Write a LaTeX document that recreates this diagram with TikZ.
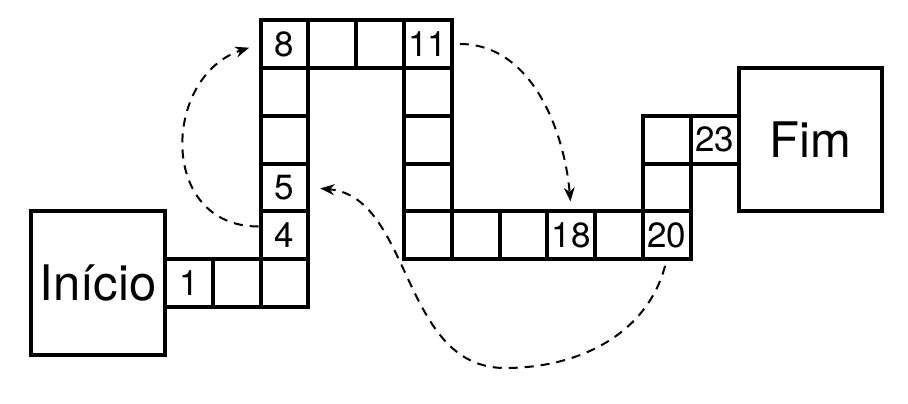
\documentclass[tikz,border=0pt]{standalone}
\usepackage{fontspec}
\setmainfont{TeX Gyre Heros}
\usetikzlibrary{positioning,arrows.meta}
\tikzset{
  every picture/.style={
    line width=2pt
  },
  cell/.style={draw, rectangle, minimum size=23.9pt, inner sep=0pt,
    outer sep=0pt, font=\fontsize{17.5}{19}\selectfont},
  bigbox/.style={draw, rectangle, minimum height=71.7pt, inner sep=0pt,
    outer sep=0pt, font=\fontsize{24.5}{27}\selectfont},
  jump/.style={line width=1pt, dash pattern=on 4.5pt off 3.5pt,
    -{Stealth[length=7pt,width=5.5pt]}}
}

\begin{document}
\begin{tikzpicture}
  \useasboundingbox (0,0) rectangle (454pt,201.5pt);

  \node[bigbox, minimum width=67pt] (inicio) at (49pt,60pt) {Início};
  \node[cell, right=0pt of inicio] (c1) {1};
  \node[cell, right=0pt of c1] (c2) {};
  \node[cell, right=0pt of c2] (c3) {};
  \node[cell, above=0pt of c3] (c4) {4};
  \node[cell, above=0pt of c4] (c5) {5};
  \node[cell, above=0pt of c5] (c6) {};
  \node[cell, above=0pt of c6] (c7) {};
  \node[cell, above=0pt of c7] (c8) {8};
  \node[cell, right=0pt of c8] (c9) {};
  \node[cell, right=0pt of c9] (c10) {};
  \node[cell, right=0pt of c10] (c11) {11};
  \node[cell, below=0pt of c11] (c12) {};
  \node[cell, below=0pt of c12] (c13) {};
  \node[cell, below=0pt of c13] (c14) {};
  \node[cell, below=0pt of c14] (c15) {};
  \node[cell, right=0pt of c15] (c16) {};
  \node[cell, right=0pt of c16] (c17) {};
  \node[cell, right=0pt of c17] (c18) {18};
  \node[cell, right=0pt of c18] (c19) {};
  \node[cell, right=0pt of c19] (c20) {20};
  \node[cell, above=0pt of c20] (c21) {};
  \node[cell, above=0pt of c21] (c22) {};
  \node[cell, right=0pt of c22] (c23) {23};
  \node[bigbox, minimum width=71.7pt, right=0pt of c23] (fim) {Fim};

  % ladders and snakes
  \draw[jump, shorten <=1pt, shorten >=6pt] (c4.160)
    to[out=180, in=198, looseness=1.45] (c8.west);
  \draw[jump, shorten <=4pt, shorten >=5pt] (c11.east)
    to[out=0, in=95] (c18.north);
  \coordinate (dip) at (252.5pt,17.5pt);
  \draw[jump, shorten <=3.5pt, shorten >=6pt] (c20.south)
    to[out=-105, in=0] (dip) to[out=180, in=-5] (c5.east);
\end{tikzpicture}
\end{document}
